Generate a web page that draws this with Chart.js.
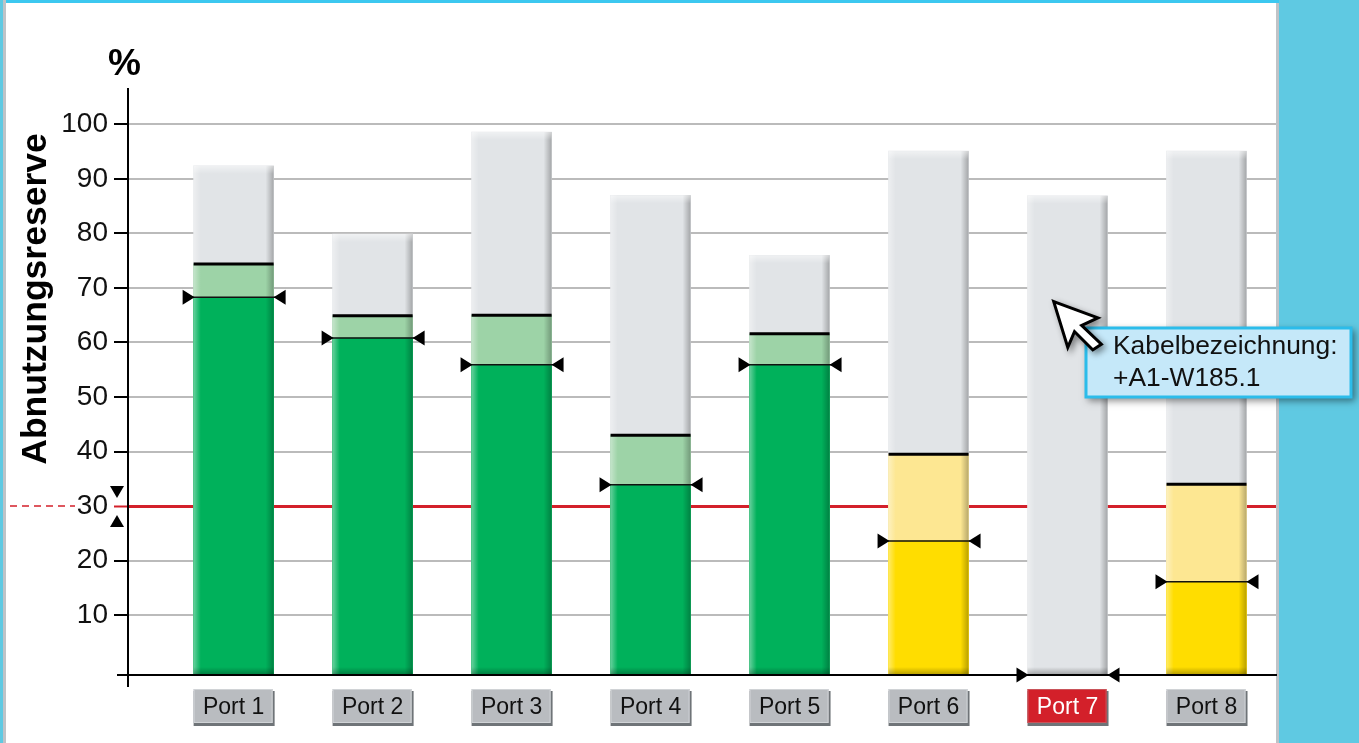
<!DOCTYPE html>
<html>
<head>
<meta charset="utf-8">
<style>
html, body { margin: 0; padding: 0; background: #5fc9e2; overflow: hidden; }
canvas { display: block; }
</style>
<script src="https://cdn.jsdelivr.net/npm/chart.js@4"></script>
</head>
<body>
<canvas id="wearChart" width="1359" height="743"></canvas>
<script>
var ports = ['Port 1', 'Port 2', 'Port 3', 'Port 4', 'Port 5', 'Port 6', 'Port 7', 'Port 8'];
var totalValues = [92.4, 79.9, 98.6, 87, 76, 95.1, 86.9, 95.1];
var limitValues = [74.4, 64.9, 65, 43, 61.6, 39.5, null, 34];
var currentValues = [68.3, 60.8, 55.9, 33.9, 55.9, 23.6, -1, 16.1];
var portStates = ['ok', 'ok', 'ok', 'ok', 'ok', 'warn', 'alarm', 'warn'];
var yTicks = [10, 20, 30, 40, 50, 60, 70, 80, 90, 100];
var threshold = 30;
var axisBase = -1;
var calloutLines = ['Kabelbezeichnung:', '+A1-W185.1'];

var FONT = '"Liberation Sans", Arial, sans-serif';
var solid = { ok: '#00b15b', warn: '#ffdd00', alarm: '#e1e4e7' };
var pale = { ok: '#9dd3a7', warn: '#fde792', alarm: '#e1e4e7' };

function series(values) {
    return values.map(function (v, i) { return { x: i, y: v }; });
}

function triangle(c, x1, y1, x2, y2, x3, y3) {
    c.beginPath();
    c.moveTo(x1, y1);
    c.lineTo(x2, y2);
    c.lineTo(x3, y3);
    c.closePath();
    c.fill();
}

function hline(c, x1, x2, y, width, color) {
    c.strokeStyle = color;
    c.lineWidth = width;
    c.beginPath();
    c.moveTo(x1, y);
    c.lineTo(x2, y);
    c.stroke();
}

// page frame and the grey buttons under the port labels
var backdrop = {
    id: 'backdrop',
    beforeDraw: function (chart) {
        var c = chart.ctx, xs = chart.scales.x;
        c.save();
        c.fillStyle = '#5fc9e2';
        c.fillRect(0, 0, 1359, 743);
        c.fillStyle = '#bfc3c7';
        c.fillRect(3, 0, 1276, 743);
        c.fillStyle = '#ffffff';
        c.fillRect(6, 0, 1270, 743);
        c.fillStyle = '#3cc8f0';
        c.fillRect(6, 0, 1273, 3);
        ports.forEach(function (p, i) {
            var x = xs.getPixelForValue(i) - 40;
            var alarm = portStates[i] === 'alarm';
            c.fillStyle = '#6f7478';
            c.fillRect(x, 691, 81, 35);
            c.fillStyle = alarm ? '#d3202a' : '#b9bcc0';
            c.fillRect(x, 689, 79, 34);
            c.strokeStyle = alarm ? '#c9545a' : '#d0d3d6';
            c.lineWidth = 1;
            c.strokeRect(x + 0.5, 689.5, 78, 33);
        });
        c.restore();
    }
};

// bevels on the bars, limit and current markers, axis ends, callout and cursor
var overlay = {
    id: 'overlay',
    afterDatasetsDraw: function (chart) {
        var c = chart.ctx, ys = chart.scales.y;
        c.save();
        chart.getDatasetMeta(2).data.forEach(function (bar, i) {
            var left = bar.x - 40, right = bar.x + 40;
            var top = bar.y, bottom = bar.base;
            var g = c.createLinearGradient(left, 0, right, 0);
            g.addColorStop(0, 'rgba(255,255,255,0.4)');
            g.addColorStop(0.09, 'rgba(255,255,255,0)');
            g.addColorStop(0.9, 'rgba(0,0,0,0)');
            g.addColorStop(1, 'rgba(0,0,0,0.27)');
            c.fillStyle = g;
            c.fillRect(left, top, 80, bottom - top);
            g = c.createLinearGradient(0, top, 0, top + 8);
            g.addColorStop(0, 'rgba(255,255,255,0.5)');
            g.addColorStop(1, 'rgba(255,255,255,0)');
            c.fillStyle = g;
            c.fillRect(left, top, 80, 8);
            g = c.createLinearGradient(0, bottom - 8, 0, bottom);
            g.addColorStop(0, 'rgba(0,0,0,0)');
            g.addColorStop(1, 'rgba(0,0,0,0.3)');
            c.fillStyle = g;
            c.fillRect(left, bottom - 8, 80, 8);

            if (limitValues[i] !== null) {
                hline(c, left, right, ys.getPixelForValue(limitValues[i]), 3, '#000');
            }
            var y = ys.getPixelForValue(currentValues[i]);
            hline(c, left - 4, right + 4, y, 1.5, '#111');
            c.fillStyle = '#000';
            triangle(c, left - 11, y - 7.5, left - 11, y + 7.5, left + 1, y);
            triangle(c, right + 12, y - 7.5, right + 12, y + 7.5, right, y);
        });

        var ty = ys.getPixelForValue(threshold);
        c.setLineDash([7, 5]);
        hline(c, 10, 75, ty, 1.5, '#d3202a');
        c.setLineDash([]);
        c.fillStyle = '#000';
        triangle(c, 110, ty - 20, 124, ty - 20, 117, ty - 8);
        triangle(c, 110, ty + 21, 124, ty + 21, 117, ty + 9);

        hline(c, 117, 1276, chart.chartArea.bottom, 2, '#000');
        c.strokeStyle = '#000';
        c.lineWidth = 2;
        c.beginPath();
        c.moveTo(128, 89);
        c.lineTo(128, 687);
        c.stroke();

        c.fillStyle = '#000';
        c.font = 'bold 37px ' + FONT;
        c.textAlign = 'left';
        c.textBaseline = 'alphabetic';
        c.fillText('%', 108, 75);
        c.save();
        c.translate(46, 299);
        c.rotate(-Math.PI / 2);
        c.font = 'bold 35.5px ' + FONT;
        c.textAlign = 'center';
        c.fillText('Abnutzungsreserve', 0, 0);
        c.restore();

        c.save();
        c.shadowColor = 'rgba(0,0,0,0.45)';
        c.shadowBlur = 7;
        c.shadowOffsetX = 3;
        c.shadowOffsetY = 3;
        c.fillStyle = '#c5e8f9';
        c.fillRect(1085, 327, 267, 71);
        c.restore();
        c.strokeStyle = '#2bbcea';
        c.lineWidth = 3;
        c.strokeRect(1086, 328, 265, 69);
        c.fillStyle = '#111';
        c.font = '26.4px ' + FONT;
        c.fillText(calloutLines[0], 1113, 354);
        c.fillText(calloutLines[1], 1113, 386);

        c.save();
        c.shadowColor = 'rgba(0,0,0,0.45)';
        c.shadowBlur = 6;
        c.shadowOffsetX = 3;
        c.shadowOffsetY = 3;
        c.beginPath();
        c.moveTo(1056, 304);
        c.lineTo(1094, 318);
        c.lineTo(1079, 325);
        c.lineTo(1099, 344);
        c.lineTo(1093, 348);
        c.lineTo(1074, 329);
        c.lineTo(1068, 343);
        c.closePath();
        c.lineJoin = 'miter';
        c.lineWidth = 6;
        c.strokeStyle = '#000';
        c.stroke();
        c.restore();
        c.fillStyle = '#fff';
        c.fill();
        c.restore();
    }
};

var ctx = document.getElementById('wearChart').getContext('2d');
var wearChart = new Chart(ctx, {
    type: 'bar',
    data: {
        datasets: [{
            label: 'current',
            data: series(currentValues),
            backgroundColor: portStates.map(function (s) { return solid[s]; })
        }, {
            label: 'limit',
            data: series(limitValues),
            backgroundColor: portStates.map(function (s) { return pale[s]; })
        }, {
            label: 'total',
            data: series(totalValues),
            backgroundColor: '#e1e4e7'
        }]
    },
    options: {
        responsive: false,
        animation: false,
        devicePixelRatio: 1,
        layout: { padding: { top: 89, right: 83 } },
        datasets: { bar: { grouped: false, barThickness: 80, base: axisBase } },
        plugins: { legend: { display: false }, tooltip: { enabled: false } },
        scales: {
            x: {
                type: 'linear',
                offset: false,
                min: -0.76,
                max: 7.5,
                grid: { display: false },
                border: { color: '#000', width: 2 },
                afterFit: function (s) { s.height = 68; },
                afterBuildTicks: function (s) {
                    s.ticks = ports.map(function (p, i) { return { value: i }; });
                },
                ticks: {
                    autoSkip: false,
                    maxRotation: 0,
                    padding: 11,
                    font: { family: FONT, size: 23 },
                    color: function (c) { return portStates[c.index] === 'alarm' ? '#fff' : '#111'; },
                    callback: function (v) { return ports[v]; }
                }
            },
            y: {
                min: axisBase,
                max: 106.5,
                afterFit: function (s) { s.width = 128; },
                afterBuildTicks: function (s) {
                    s.ticks = yTicks.map(function (v) { return { value: v }; });
                },
                border: { color: '#000', width: 2 },
                grid: {
                    lineWidth: function (c) { return c.tick && c.tick.value === threshold ? 3 : 2; },
                    tickLength: 14,
                    tickWidth: 2,
                    color: function (c) { return c.tick && c.tick.value === threshold ? '#d3202a' : '#bbbbbb'; },
                    tickColor: function (c) { return c.tick && c.tick.value === threshold ? '#d3202a' : '#000'; }
                },
                ticks: {
                    padding: 6,
                    color: '#111',
                    font: { family: FONT, size: 28 }
                }
            }
        }
    },
    plugins: [backdrop, overlay]
});
</script>
</body>
</html>
